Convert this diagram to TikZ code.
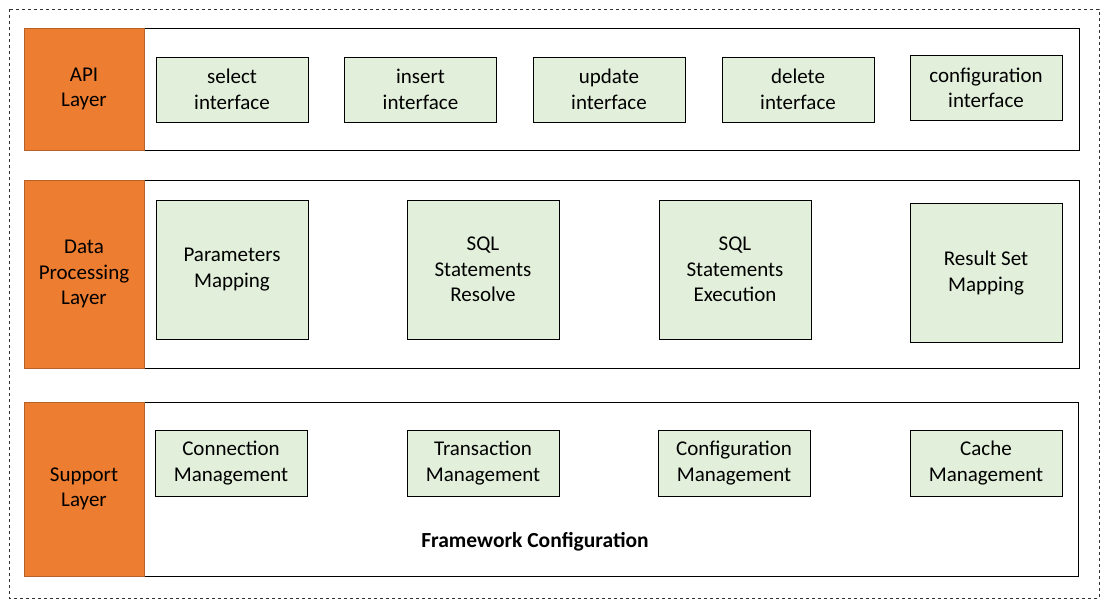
\documentclass[tikz,border=0pt]{standalone}
\usepackage{fontspec}
\setmainfont{Carlito}
\usepackage{xcolor}
\usepackage{tikz}
\usetikzlibrary{positioning, calc}

\definecolor{layerorange}{HTML}{ED7D31}
\definecolor{layeredge}{HTML}{B5622A}
\definecolor{itemgreen}{HTML}{E2EFDA}

\tikzset{
	layer/.style={draw=layeredge, fill=layerorange, line width=1pt, minimum width=120pt, align=center, inner sep=0pt},
	band/.style={draw=black, fill=white, line width=1pt, minimum width=935pt, inner sep=0pt},
	item/.style={draw=black, fill=itemgreen, line width=1pt, minimum width=152pt, align=center, inner sep=0pt}
}

\begin{document}
\begin{tikzpicture}[x=1pt, y=-1pt, font=\fontsize{21}{25.5}\selectfont]
	\useasboundingbox (0,0) rectangle (1107,605);
	\draw [dashed, line width=0.9pt, black!80] (9,9) rectangle (1099,598);
	
	% API layer
	\node [band, minimum height=122pt] (apiB) at (611.5,89) {};
	\node [layer, minimum height=122pt] (apiL) at (84,89) {API\\Layer};
	\node [item, minimum height=65pt] (sel) at (232,89.5) {select\\interface};
	\node [item, minimum height=65pt] (ins) at (420.5,89.5) {insert\\interface};
	\node [item, minimum height=65pt] (upd) at (609,89.5) {update\\interface};
	\node [item, minimum height=65pt] (del) at (798,89.5) {delete\\interface};
	\node [item, minimum height=65pt] (cfg) at (986,88) {configuration\\interface};
	
	% data processing layer
	\node [band, minimum height=188pt] (dataB) at (611.5,274) {};
	\node [layer, minimum height=188pt] (dataL) at (84,274) {Data\\Processing\\Layer};
	\node [item, minimum height=139pt] (param) at (232,269.5) {Parameters\\Mapping};
	\node [item, minimum height=139pt] (resolve) at (483,269.5) {SQL\\Statements\\Resolve};
	\node [item, minimum height=139pt] (exec) at (735,269.5) {SQL\\Statements\\Execution};
	\node [item, minimum height=139pt] (result) at (986,273) {Result Set\\Mapping};
	
	% support layer
	\node [band, minimum height=174pt] (supB) at (611,489) {};
	\node [layer, minimum height=174pt] (supL) at (84,489) {Support\\Layer};
	\node [item, minimum height=66pt] (conn) at (231,463) {Connection\\Management};
	\node [item, minimum height=66pt] (trans) at (483,463) {Transaction\\Management};
	\node [item, minimum height=66pt] (conf) at (734,463) {Configuration\\Management};
	\node [item, minimum height=66pt] (cache) at (986,463) {Cache\\Management};
	
	\node [font=\fontsize{21.5}{25}\selectfont\bfseries] (frame) at (535,542) {Framework Configuration};
\end{tikzpicture}
\end{document}
